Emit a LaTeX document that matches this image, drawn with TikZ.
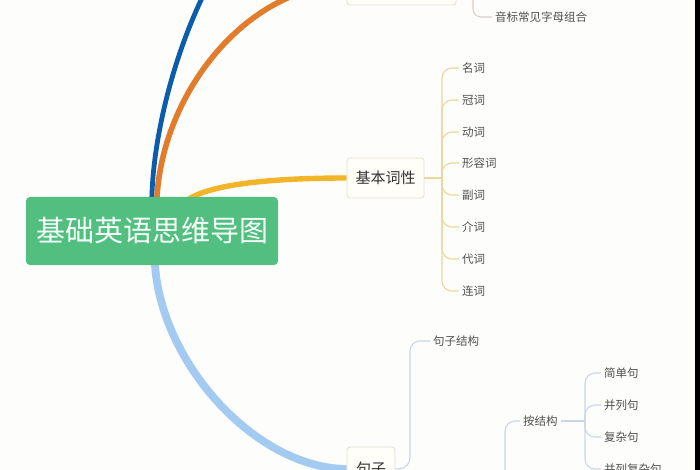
\documentclass[tikz,border=0pt]{standalone}
\usepackage{fontspec}
\setmainfont{Noto Sans CJK SC}
\usetikzlibrary{calc,backgrounds}
\definecolor{bgc}{HTML}{FDFDFB}
\definecolor{rootgreen}{HTML}{52BE80}
\definecolor{roottext}{HTML}{F4FFF8}
\definecolor{bdark}{HTML}{0B5CAD}
\definecolor{borange}{HTML}{E37B2C}
\definecolor{byellow}{HTML}{F2B52A}
\definecolor{blight}{HTML}{A3CBF1}
\definecolor{lyellow}{HTML}{E8D89C}
\definecolor{lblue}{HTML}{C9D6E3}
\definecolor{lorange}{HTML}{D9CFC3}
\definecolor{boxborder}{HTML}{E3DECF}
\definecolor{boxfill}{HTML}{FFFEF9}
\definecolor{leaftext}{HTML}{505050}
\definecolor{boxtext}{HTML}{333333}
\tikzset{
  rootbox/.style={fill=rootgreen, rounded corners=4pt, text=roottext, inner sep=0pt,
    minimum width=252pt, minimum height=68pt, font=\fontsize{29}{33}\selectfont},
  subbox/.style={draw=boxborder, line width=0.8pt, fill=boxfill, rounded corners=3pt, inner sep=0pt,
    text=boxtext, font=\fontsize{15}{18}\selectfont},
  leaf/.style={anchor=west, inner sep=3pt, text=leaftext, font=\fontsize{11.5}{14}\selectfont},
  mainlink/.style={line width=#1},
  ylink/.style={draw=lyellow, line width=1.1pt, rounded corners=10pt},
  slink/.style={draw=lblue, line width=1.1pt, rounded corners=10pt},
  olink/.style={draw=lorange, line width=1.1pt, rounded corners=8pt},
}
\begin{document}
\begin{tikzpicture}[x=1pt,y=-1pt]
\useasboundingbox (0,0) rectangle (700,470);
\clip (0,0) rectangle (700,470);

% nodes
\node[rootbox] (root) at (152,231) {基础英语思维导图};
\node[subbox, minimum width=109pt, minimum height=40pt] (b1) at (401.5,-15) {};
\node[subbox, minimum width=77pt, minimum height=40pt] (b2) at (385.5,178) {基本词性};
\node[subbox, minimum width=48pt, minimum height=44pt] (b3) at (371,469) {句子};

% orange branch child
\node[leaf] (o1) at (492,17) {音标常见字母组合};

% word classes
\node[leaf] (c1) at (459,68) {名词};
\node[leaf] (c2) at (459,100) {冠词};
\node[leaf] (c3) at (459,132) {动词};
\node[leaf] (c4) at (459,163) {形容词};
\node[leaf] (c5) at (459,195) {副词};
\node[leaf] (c6) at (459,227) {介词};
\node[leaf] (c7) at (459,259) {代词};
\node[leaf] (c8) at (459,291) {连词};

% sentence children
\node[leaf] (s1) at (430,341) {句子结构};
\node[leaf] (s2) at (520,421) {按结构};
\node[leaf] (t1) at (601,373) {简单句};
\node[leaf] (t2) at (601,405) {并列句};
\node[leaf] (t3) at (601,437) {复杂句};
\node[leaf] (t4) at (601,469) {并列复杂句};

% junctions
\coordinate (bd) at (235,-60);
\coordinate (j1) at (473,-15);
\coordinate (j2) at (442,178);
\coordinate (j3) at (410,468);
\coordinate (j4) at (505,480);
\coordinate (j5) at (585,421);

\begin{scope}[on background layer]
  \fill[bgc] (0,0) rectangle (700,470);
  % main branches
  \draw[mainlink=4.8pt, bdark] ($(root.north west)+(126,3)$) .. controls (153,130) and (180,20) .. (bd);
  \draw[mainlink=5.6pt, borange] ($(root.north west)+(131,3)$) .. controls (162,90) and (250,-15) .. (b1.west);
  \draw[mainlink=5.4pt, byellow] ($(root.north west)+(162,3)$) .. controls (212,183) and (280,178) .. (b2.west);
  \draw[mainlink=7.8pt, blight] ($(root.south west)+(129,-3)$) .. controls (160,362) and (255,468) .. (b3.west);
\end{scope}

% orange child connector
\draw[olink] (b1.east) -- (j1) |- (o1.west);

% word class connectors
\draw[ylink] (b2.east) -- (j2);
\foreach \c in {c1,c2,c3,c4,c5,c6,c7,c8} {
  \draw[ylink] (j2) |- (\c.west);
}

% sentence connectors
\draw[slink] (b3.east) -- (j3) |- (s1.west);
\draw[slink] (j4) |- (s2.west);
\draw[slink] (s2.east) -- (j5);
\foreach \t in {t1,t2,t3,t4} {
  \draw[slink] (j5) |- (\t.west);
}

% dark edge strip on the right
\fill[black] (695,0) rectangle (700,470);
\end{tikzpicture}
\end{document}
